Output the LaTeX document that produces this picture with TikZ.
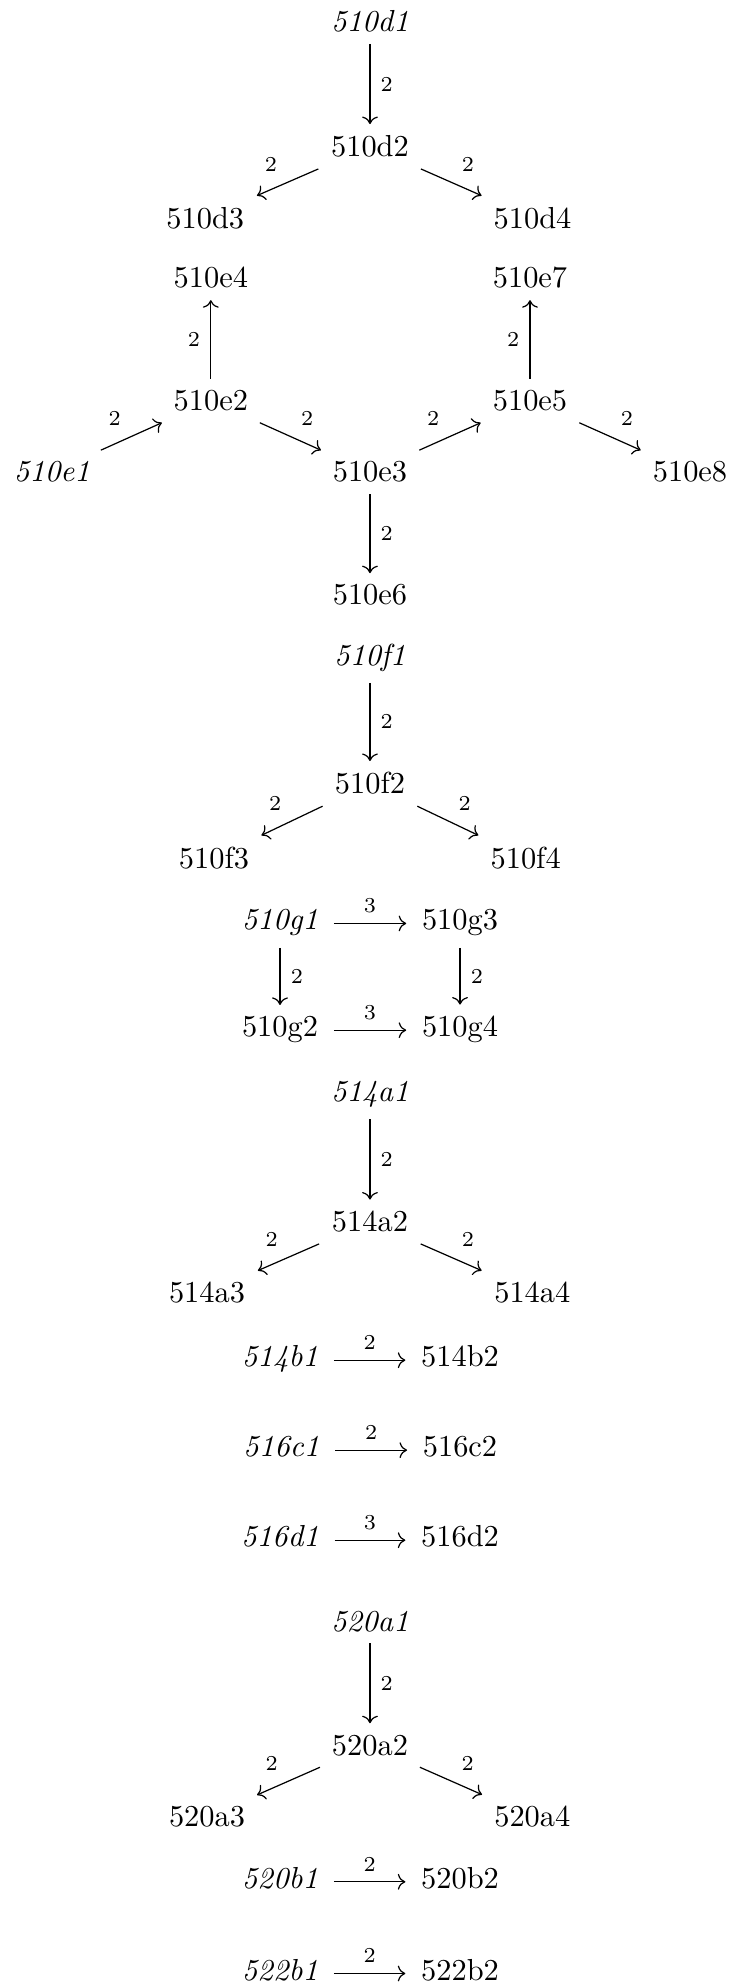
\documentclass[tikz,border=0pt]{standalone}
\usepackage{tikz}
\usetikzlibrary{arrows.meta}
\tikzset{
  vertex/.style = {
    anchor=base, inner xsep=5pt, inner ysep=3.6pt
  },
  srcvertex/.style = {
    vertex, font=\itshape
  },
  wt/.style = {font=\scriptsize},
  myarrow/.style = {-{Computer Modern Rightarrow}}
}
\begin{document}
\begin{tikzpicture}
\useasboundingbox (0,0) rectangle (8.462,-22.936);

% ----- NODES: 510d -----
\node[srcvertex] (n510d1) at (4.277,-0.366) {510d1};
\node[vertex]    (n510d2) at (4.277,-1.812) {510d2};
\node[vertex]    (n510d3) at (2.373,-2.639) {510d3};
\node[vertex]    (n510d4) at (6.156,-2.639) {510d4};

% ----- NODES: 510e -----
\node[vertex]    (n510e4) at (2.437,-3.329) {510e4};
\node[vertex]    (n510e7) at (6.127,-3.329) {510e7};
\node[vertex]    (n510e2) at (2.437,-4.746) {510e2};
\node[vertex]    (n510e5) at (6.127,-4.746) {510e5};
\node[srcvertex] (n510e1) at (0.600,-5.572) {510e1};
\node[vertex]    (n510e3) at (4.277,-5.572) {510e3};
\node[vertex]    (n510e8) at (7.977,-5.572) {510e8};
\node[vertex]    (n510e6) at (4.277,-6.994) {510e6};

% ----- NODES: 510f -----
\node[srcvertex] (n510f1) at (4.277,-7.688) {510f1};
\node[vertex]    (n510f2) at (4.277,-9.179) {510f2};
\node[vertex]    (n510f3) at (2.474,-10.038) {510f3};
\node[vertex]    (n510f4) at (6.077,-10.038) {510f4};

% ----- NODES: 510g -----
\node[srcvertex] (n510g1) at (3.237,-10.751) {510g1};
\node[vertex]    (n510g3) at (5.318,-10.751) {510g3};
\node[vertex]    (n510g2) at (3.237,-11.985) {510g2};
\node[vertex]    (n510g4) at (5.318,-11.985) {510g4};

% ----- NODES: 514 -----
\node[srcvertex] (n514a1) at (4.277,-12.736) {514a1};
\node[vertex]    (n514a2) at (4.277,-14.239) {514a2};
\node[vertex]    (n514a3) at (2.393,-15.060) {514a3};
\node[vertex]    (n514a4) at (6.154,-15.060) {514a4};
\node[srcvertex] (n514b1) at (3.237,-15.800) {514b1};
\node[vertex]    (n514b2) at (5.318,-15.800) {514b2};

% ----- NODES: 516 -----
\node[srcvertex] (n516c1) at (3.252,-16.840) {516c1};
\node[vertex]    (n516c2) at (5.318,-16.840) {516c2};
\node[srcvertex] (n516d1) at (3.237,-17.881) {516d1};
\node[vertex]    (n516d2) at (5.318,-17.881) {516d2};

% ----- NODES: 520 / 522 -----
\node[srcvertex] (n520a1) at (4.277,-18.855) {520a1};
\node[vertex]    (n520a2) at (4.277,-20.289) {520a2};
\node[vertex]    (n520a3) at (2.393,-21.118) {520a3};
\node[vertex]    (n520a4) at (6.154,-21.118) {520a4};
\node[srcvertex] (n520b1) at (3.237,-21.830) {520b1};
\node[vertex]    (n520b2) at (5.318,-21.830) {520b2};
\node[srcvertex] (n522b1) at (3.237,-22.890) {522b1};
\node[vertex]    (n522b2) at (5.318,-22.890) {522b2};

% ----- ARROWS: 510d -----
\draw[myarrow] (n510d1) -- node[wt,right]{2} (n510d2);
\draw[myarrow] (n510d2) -- node[wt,above left]{2} (n510d3);
\draw[myarrow] (n510d2) -- node[wt,above right]{2} (n510d4);

% ----- ARROWS: 510e -----
\draw[myarrow] (n510e1) -- node[wt,above left]{2} (n510e2);
\draw[myarrow] (n510e2) -- node[wt,left]{2} (n510e4);
\draw[myarrow] (n510e2) -- node[wt,above right]{2} (n510e3);
\draw[myarrow] (n510e3) -- node[wt,above left]{2} (n510e5);
\draw[myarrow] (n510e3) -- node[wt,right]{2} (n510e6);
\draw[myarrow] (n510e5) -- node[wt,left]{2} (n510e7);
\draw[myarrow] (n510e5) -- node[wt,above right]{2} (n510e8);

% ----- ARROWS: 510f -----
\draw[myarrow] (n510f1) -- node[wt,right]{2} (n510f2);
\draw[myarrow] (n510f2) -- node[wt,above left]{2} (n510f3);
\draw[myarrow] (n510f2) -- node[wt,above right]{2} (n510f4);

% ----- ARROWS: 510g (square) -----
\draw[myarrow] (n510g1.mid east) -- node[wt,above]{3} (n510g3.mid west);
\draw[myarrow] (n510g2.mid east) -- node[wt,above]{3} (n510g4.mid west);
\draw[myarrow] (n510g1) -- node[wt,right]{2} (n510g2);
\draw[myarrow] (n510g3) -- node[wt,right]{2} (n510g4);

% ----- ARROWS: 514 -----
\draw[myarrow] (n514a1) -- node[wt,right]{2} (n514a2);
\draw[myarrow] (n514a2) -- node[wt,above left]{2} (n514a3);
\draw[myarrow] (n514a2) -- node[wt,above right]{2} (n514a4);
\draw[myarrow] (n514b1.mid east) -- node[wt,above]{2} (n514b2.mid west);

% ----- ARROWS: 516 -----
\draw[myarrow] (n516c1.mid east) -- node[wt,above]{2} (n516c2.mid west);
\draw[myarrow] (n516d1.mid east) -- node[wt,above]{3} (n516d2.mid west);

% ----- ARROWS: 520 / 522 -----
\draw[myarrow] (n520a1) -- node[wt,right]{2} (n520a2);
\draw[myarrow] (n520a2) -- node[wt,above left]{2} (n520a3);
\draw[myarrow] (n520a2) -- node[wt,above right]{2} (n520a4);
\draw[myarrow] (n520b1.mid east) -- node[wt,above]{2} (n520b2.mid west);
\draw[myarrow] (n522b1.mid east) -- node[wt,above]{2} (n522b2.mid west);

\end{tikzpicture}
\end{document}
